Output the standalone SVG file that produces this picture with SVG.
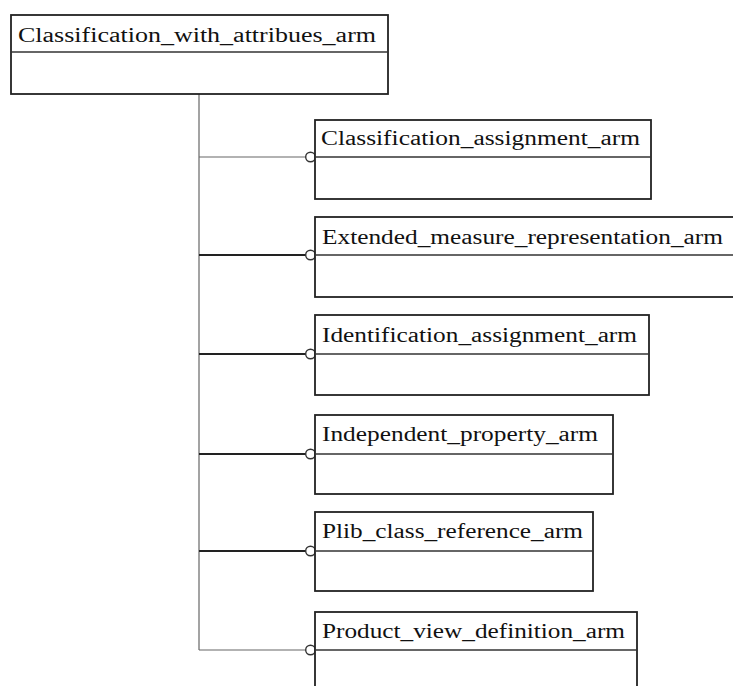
<svg xmlns="http://www.w3.org/2000/svg" width="733" height="686" viewBox="0 0 733 686">
<style>
.box{fill:#fff;stroke:#222;stroke-width:1.8}
.div{stroke:#333;stroke-width:1.4}
.lbl{font-family:"Liberation Serif","Times New Roman",serif;font-size:20px;fill:#111}
.thin{stroke:#666;stroke-width:1.2;fill:none}
.thick{stroke:#222;stroke-width:1.8;fill:none}
.ring{fill:#fff;stroke:#333;stroke-width:1.4}
</style>
<rect width="733" height="686" fill="#fff"/>
<g id="connectors">
<line class="thin" x1="199" y1="94" x2="199" y2="650"/>
<line class="thin" x1="199" y1="157" x2="306" y2="157"/>
<line class="thick" x1="199" y1="255" x2="306" y2="255"/>
<line class="thick" x1="199" y1="354" x2="306" y2="354"/>
<line class="thick" x1="199" y1="454" x2="306" y2="454"/>
<line class="thick" x1="199" y1="551" x2="306" y2="551"/>
<line class="thin" x1="199" y1="650" x2="306" y2="650"/>
<circle class="ring" cx="310.5" cy="157" r="4.8"/>
<circle class="ring" cx="310.5" cy="255" r="4.8"/>
<circle class="ring" cx="310.5" cy="354" r="4.8"/>
<circle class="ring" cx="310.5" cy="454" r="4.8"/>
<circle class="ring" cx="310.5" cy="551" r="4.8"/>
<circle class="ring" cx="310.5" cy="650" r="4.8"/>
</g>
<g id="node-top">
<rect class="box" x="11" y="15" width="377" height="79"/>
<line class="div" x1="11" y1="52" x2="388" y2="52" stroke="#777"/>
<text class="lbl" x="18" y="42" textLength="358" lengthAdjust="spacingAndGlyphs">Classification_with_attribues_arm</text>
</g>
<g id="node-1">
<rect class="box" x="315" y="120" width="336" height="79"/>
<line class="div" x1="315" y1="157" x2="651" y2="157"/>
<text class="lbl" x="321" y="145" textLength="319" lengthAdjust="spacingAndGlyphs">Classification_assignment_arm</text>
</g>
<g id="node-2">
<rect class="box" x="315" y="217" width="430" height="80"/>
<line class="div" x1="315" y1="255" x2="745" y2="255"/>
<text class="lbl" x="322" y="244" textLength="401" lengthAdjust="spacingAndGlyphs">Extended_measure_representation_arm</text>
</g>
<g id="node-3">
<rect class="box" x="315" y="315" width="334" height="80"/>
<line class="div" x1="315" y1="354" x2="649" y2="354"/>
<text class="lbl" x="322" y="342" textLength="315" lengthAdjust="spacingAndGlyphs">Identification_assignment_arm</text>
</g>
<g id="node-4">
<rect class="box" x="315" y="415" width="298" height="79"/>
<line class="div" x1="315" y1="454" x2="613" y2="454"/>
<text class="lbl" x="322" y="441" textLength="276" lengthAdjust="spacingAndGlyphs">Independent_property_arm</text>
</g>
<g id="node-5">
<rect class="box" x="315" y="512" width="278" height="79"/>
<line class="div" x1="315" y1="551" x2="593" y2="551"/>
<text class="lbl" x="322" y="538" textLength="261" lengthAdjust="spacingAndGlyphs">Plib_class_reference_arm</text>
</g>
<g id="node-6">
<rect class="box" x="315" y="612" width="322" height="90"/>
<line class="div" x1="315" y1="650" x2="637" y2="650" stroke="#777"/>
<text class="lbl" x="322" y="638" textLength="303" lengthAdjust="spacingAndGlyphs">Product_view_definition_arm</text>
</g>
</svg>
